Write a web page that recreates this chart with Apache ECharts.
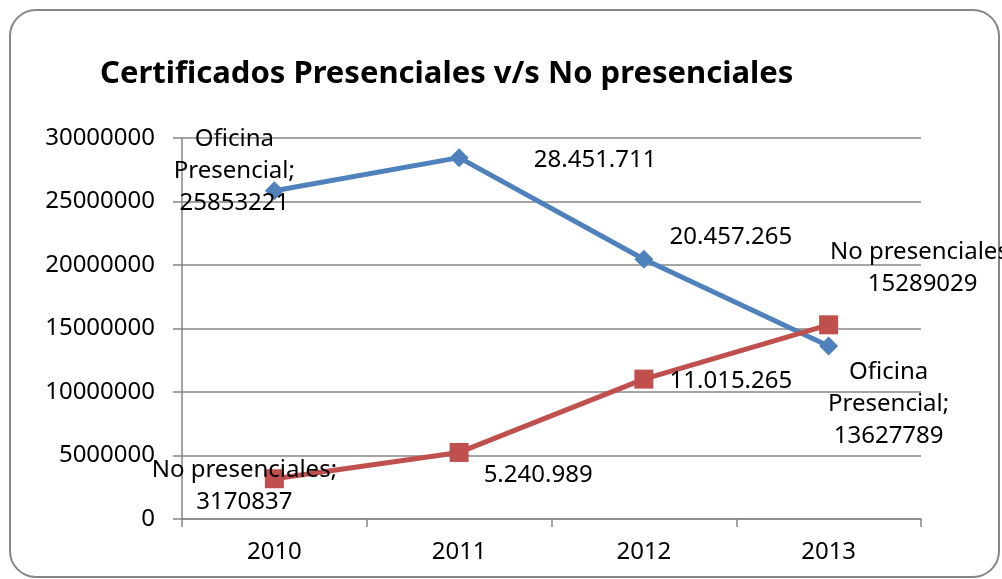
<!DOCTYPE html>
<html>
<head>
<meta charset="utf-8">
<title>Certificados Presenciales v/s No presenciales</title>
<script src="https://cdn.jsdelivr.net/npm/echarts@6/dist/echarts.min.js"></script>
<style>
  html, body { margin: 0; padding: 0; background: #fff; }
  #chart { width: 1002px; height: 579px; }
</style>
</head>
<body>
<div id="chart"></div>
<script>
// datos
const years = ['2010', '2011', '2012', '2013'];
const presencial = [25853221, 28451711, 20457265, 13627789];
const noPresencial = [3170837, 5240989, 11015265, 15289029];
const yTicks = [0, 5000000, 10000000, 15000000, 20000000, 25000000, 30000000];

// desplazamiento de cada etiqueta respecto a su punto (solo estilo)
const offsetsPresencial = [[-40, -20], [136, 2], [87, -22], [60, 58]];
const offsetsNoPresencial = [[-30, 7], [79, 23], [87, 2], [94, -57]];

const FONT = '"Noto Sans", "DejaVu Sans", sans-serif';

// 28451711 -> 28.451.711
function puntos(v) {
    return String(v).replace(/\B(?=(\d{3})+(?!\d))/g, '.');
}

function buildData(values, offsets, nameLabel) {
    return values.map((v, i) => {
        const extremo = i === 0 || i === values.length - 1;
        return {
            value: v,
            label: {
                offset: offsets[i],
                formatter: extremo ? nameLabel + ';\n' + v : puntos(v)
            }
        };
    });
}

const chart = echarts.init(document.getElementById('chart'));

const labelBase = {
    show: true,
    position: 'inside',
    color: '#000',
    fontFamily: FONT,
    fontSize: 24,
    lineHeight: 32,
    align: 'center',
    verticalAlign: 'middle'
};

chart.setOption({
    animation: false,
    backgroundColor: '#fff',
    title: {
        text: 'Certificados Presenciales v/s No presenciales',
        left: 95,
        top: 54,
        textStyle: { fontFamily: FONT, fontSize: 31, fontWeight: 'bold', color: '#000' }
    },
    grid: { left: 182, right: 81, top: 138, bottom: 60 },
    xAxis: {
        type: 'category',
        data: years,
        boundaryGap: true,
        axisLine: { lineStyle: { color: '#868686', width: 1.5 } },
        axisTick: { show: true, length: 8, lineStyle: { color: '#868686', width: 1.5 } },
        axisLabel: { color: '#000', fontFamily: FONT, fontSize: 24, margin: 21 }
    },
    yAxis: {
        type: 'value',
        min: yTicks[0],
        max: yTicks[yTicks.length - 1],
        interval: yTicks[1] - yTicks[0],
        axisLine: { show: true, lineStyle: { color: '#868686', width: 1.5 } },
        axisTick: { show: true, length: 9, lineStyle: { color: '#868686', width: 1.5 } },
        splitLine: { lineStyle: { color: '#868686', width: 1.5 } },
        axisLabel: {
            color: '#000', fontFamily: FONT, fontSize: 24, margin: 27,
            formatter: v => String(v)
        }
    },
    series: [
        {
            name: 'Oficina Presencial',
            type: 'line',
            data: buildData(presencial, offsetsPresencial, 'Oficina\nPresencial'),
            symbol: 'diamond',
            symbolSize: 19,
            lineStyle: { color: '#4F81BD', width: 5 },
            itemStyle: { color: '#4F81BD' },
            label: labelBase,
            z: 2
        },
        {
            name: 'No presenciales',
            type: 'line',
            data: buildData(noPresencial, offsetsNoPresencial, 'No presenciales'),
            symbol: 'rect',
            symbolSize: 19,
            lineStyle: { color: '#C0504D', width: 5 },
            itemStyle: { color: '#C0504D' },
            label: labelBase,
            z: 3
        }
    ],
    graphic: [
        {
            type: 'rect',
            shape: { x: 10, y: 10, width: 989, height: 567, r: 26 },
            style: { fill: 'none', stroke: '#868686', lineWidth: 2 },
            z: -1
        }
    ]
});
window.addEventListener('resize', () => chart.resize());
</script>
</body>
</html>
